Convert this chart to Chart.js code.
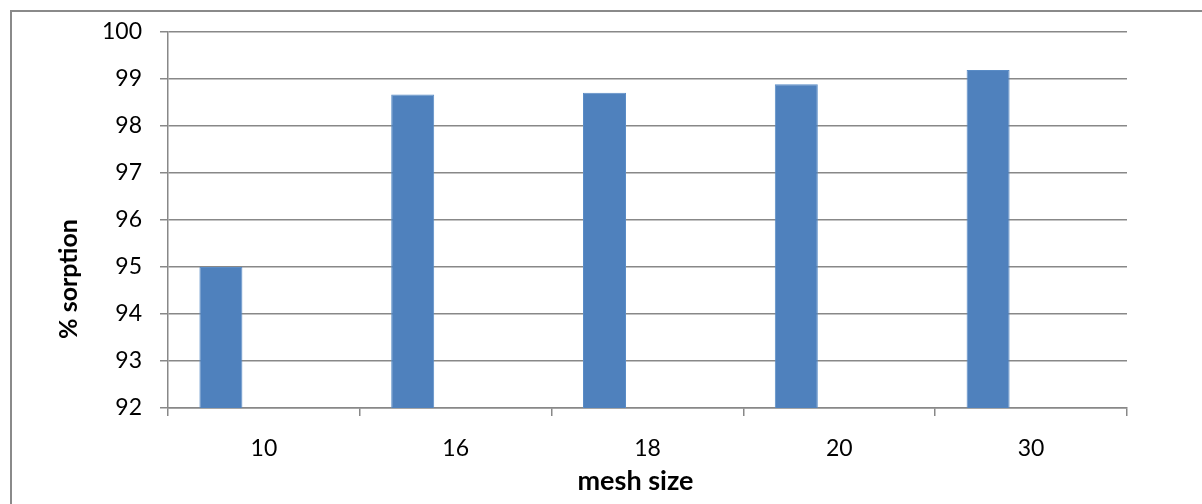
<!DOCTYPE html>
<html>
<head>
<meta charset="utf-8">
<script src="https://cdn.jsdelivr.net/npm/chart.js@4"></script>
<style>
    html, body { margin: 0; padding: 0; background: #fff; overflow: hidden; }
    #wrap { position: relative; width: 1202px; height: 504px; }
    #frame { position: absolute; left: 10px; top: 10px; width: 1300px; height: 600px; border-left: 2px solid #8a8a8a; border-top: 2px solid #8a8a8a; box-sizing: border-box; pointer-events: none; }
    canvas { position: absolute; left: 0; top: 0; }
</style>
</head>
<body>
<div id="wrap">
    <canvas id="chart" width="1202" height="504"></canvas>
    <div id="frame"></div>
</div>
<script>
// ---------- Data ----------
const meshSizes = ['10', '16', '18', '20', '30'];
const sorption = [95.0, 98.67, 98.71, 98.89, 99.19];
const series2 = [];
const series3 = [];
const yTicks = [92, 93, 94, 95, 96, 97, 98, 99, 100];

const xTitle = 'mesh size';
const yTitle = '% sorption';

const FONT = 'Lato, "Open Sans", sans-serif';
const GRID = '#888888';
const BAR = '#4F81BD';

// axis titles drawn by hand (Excel puts the y title off-centre)
const titlePlugin = {
    id: 'titles',
    afterDraw(chart) {
        const { ctx, chartArea } = chart;
        ctx.save();
        ctx.fillStyle = '#000';
        ctx.textAlign = 'center';
        ctx.textBaseline = 'middle';
        ctx.font = 'bold 27px ' + FONT;
        ctx.fillText(xTitle, chartArea.left + (chartArea.right - chartArea.left) / 2 - 12, 481);
        ctx.font = 'bold 25px ' + FONT;
        ctx.translate(69, 279);
        ctx.rotate(-Math.PI / 2);
        ctx.fillText(yTitle, 0, 0);
        ctx.restore();
    }
};

new Chart(document.getElementById('chart'), {
    type: 'bar',
    data: {
        labels: meshSizes,
        datasets: [
            { label: 'Series1', data: sorption, backgroundColor: BAR, borderColor: '#5a8cc6', borderWidth: 1 },
            { label: 'Series2', data: series2, backgroundColor: '#C0504D' },
            { label: 'Series3', data: series3, backgroundColor: '#9BBB59' }
        ]
    },
    options: {
        responsive: false,
        animation: false,
        devicePixelRatio: 1,
        layout: { padding: { top: 32, right: 75, left: 0, bottom: 0 } },
        datasets: { bar: { categoryPercentage: 0.6725, barPercentage: 1.0 } },
        plugins: { legend: { display: false }, tooltip: { enabled: false } },
        scales: {
            x: {
                grid: { offset: true, drawOnChartArea: false, drawTicks: true, tickLength: 8, color: GRID, lineWidth: 1.5 },
                border: { color: GRID, width: 1.5 },
                ticks: { color: '#000', font: { family: FONT, size: 23 }, padding: 19 },
                afterFit: s => { s.height = 96; }
            },
            y: {
                min: yTicks[0],
                max: yTicks[yTicks.length - 1],
                afterBuildTicks: s => { s.ticks = yTicks.map(v => ({ value: v })); },
                grid: { color: GRID, lineWidth: 1.5, tickLength: 8 },
                border: { color: GRID, width: 1.5 },
                ticks: { color: '#000', font: { family: FONT, size: 23 }, padding: 18 },
                afterFit: s => { s.width = 168; }
            }
        }
    },
    plugins: [titlePlugin]
});
</script>
</body>
</html>
